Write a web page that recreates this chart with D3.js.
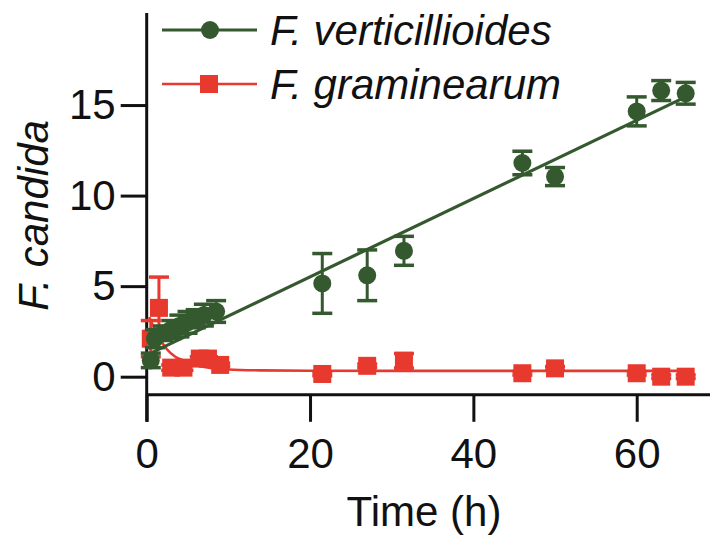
<!DOCTYPE html>
<html>
<head>
<meta charset="utf-8">
<script src="https://cdn.jsdelivr.net/npm/d3@7"></script>
<style>
  body { margin: 0; background: #fff; }
  text { font-family: "Liberation Sans", Arial, Helvetica, sans-serif; fill: #111; }
</style>
</head>
<body>
<div id="chart"></div>
<script>
// F. verticillioides (green circles)
const vertTime = [0.5, 1, 2, 3, 4, 5, 6, 7, 8.5, 21.5, 27, 31.5, 46, 50, 60, 63, 66];
const vertMean = [0.9, 2.1, 2.4, 2.6, 2.8, 3.0, 3.2, 3.4, 3.6, 5.15, 5.6, 6.95, 11.8, 11.05, 14.65, 15.8, 15.65];
const vertErr  = [0.4, 0.5, 0.4, 0.5, 0.6, 0.6, 0.5, 0.6, 0.6, 1.65, 1.4, 0.8, 0.65, 0.5, 0.8, 0.55, 0.6];
const vertFit  = [[0.5, 1.3], [66, 15.45]];

// F. graminearum (red squares)
const gramTime = [0.5, 1.5, 3, 4.5, 6.5, 7.5, 9, 21.5, 27, 31.5, 46, 50, 60, 63, 66];
const gramMean = [2.1, 3.8, 0.5, 0.5, 1.0, 1.0, 0.65, 0.15, 0.6, 0.88, 0.19, 0.46, 0.19, 0.0, 0.0];
const gramErr  = [1.0, 1.7, 0.15, 0.15, 0.1, 0.1, 0.1, 0.1, 0.1, 0.4, 0.1, 0.1, 0.1, 0.1, 0.1];
const gramFit  = [[0.3, 3.3], [1, 2.6], [1.6, 2.1], [2.5, 1.5], [3.5, 1.1], [4.5, 0.9], [6, 0.65],
                  [8, 0.47], [10, 0.4], [14, 0.35], [20, 0.33], [40, 0.32], [66, 0.32]];

const xTicks = [0, 20, 40, 60];
const yTicks = [0, 5, 10, 15];
const legendNames = ['F. verticillioides', 'F. graminearum'];

const green = '#35592f';
const red = '#e8392e';

const W = 710, H = 535;
const svg = d3.select('#chart').append('svg')
  .attr('width', W)
  .attr('height', H);

// Scales (absolute pixel positions)
const x = d3.scaleLinear().domain([0, 69]).range([146.7, 710.2]);
const y = d3.scaleLinear().domain([-1, 20]).range([394.8, 14.5]);

// Axes
const xAxis = svg.append('g')
  .attr('transform', `translate(0,${y(-1)})`)
  .call(d3.axisBottom(x).tickValues(xTicks).tickSize(27).tickPadding(16).tickSizeOuter(0));
const yAxis = svg.append('g')
  .attr('transform', `translate(${x(0)},0)`)
  .call(d3.axisLeft(y).tickValues(yTicks).tickSize(26).tickPadding(5).tickSizeOuter(0));

[xAxis, yAxis].forEach(g => {
  g.selectAll('path.domain').remove();
  g.selectAll('line').attr('stroke', '#111').attr('stroke-width', 3);
  g.selectAll('text').style('font-size', '42px').attr('fill', '#111');
});

// axis lines
svg.append('line')
  .attr('x1', x(0)).attr('x2', x(0))
  .attr('y1', y(20) - 1.5).attr('y2', y(-1) + 27)
  .attr('stroke', '#111').attr('stroke-width', 3);
svg.append('line')
  .attr('x1', x(0)).attr('x2', x(69))
  .attr('y1', y(-1)).attr('y2', y(-1))
  .attr('stroke', '#111').attr('stroke-width', 3);

// Axis titles
svg.append('text')
  .attr('x', 424).attr('y', 526)
  .attr('text-anchor', 'middle')
  .style('font-size', '42px')
  .text('Time (h)');

svg.append('text')
  .attr('transform', `translate(48,${y(8.9)}) rotate(-90)`)
  .attr('text-anchor', 'middle')
  .style('font-size', '42px')
  .style('font-style', 'italic')
  .text('F. candida');

const line = d3.line().x(d => x(d[0])).y(d => y(d[1]));

// Fit lines
svg.append('path')
  .datum(gramFit)
  .attr('d', line.curve(d3.curveMonotoneX))
  .attr('fill', 'none')
  .attr('stroke', red)
  .attr('stroke-width', 2.6);

svg.append('path')
  .datum(vertFit)
  .attr('d', d3.line().x(d => x(d[0])).y(d => y(d[1])))
  .attr('fill', 'none')
  .attr('stroke', green)
  .attr('stroke-width', 3.2);

// Error bars + markers
function errorBars(times, means, errs, color) {
  const g = svg.append('g');
  const rows = times.map((t, i) => ({ t, m: means[i], e: errs[i] }));
  g.selectAll('.stem').data(rows).enter().append('line')
    .attr('x1', d => x(d.t)).attr('x2', d => x(d.t))
    .attr('y1', d => y(d.m - d.e)).attr('y2', d => y(d.m + d.e))
    .attr('stroke', color).attr('stroke-width', 3);
  g.selectAll('.capTop').data(rows).enter().append('line')
    .attr('x1', d => x(d.t) - 10).attr('x2', d => x(d.t) + 10)
    .attr('y1', d => y(d.m + d.e)).attr('y2', d => y(d.m + d.e))
    .attr('stroke', color).attr('stroke-width', 3.5);
  g.selectAll('.capBot').data(rows).enter().append('line')
    .attr('x1', d => x(d.t) - 10).attr('x2', d => x(d.t) + 10)
    .attr('y1', d => y(d.m - d.e)).attr('y2', d => y(d.m - d.e))
    .attr('stroke', color).attr('stroke-width', 3.5);
  return rows;
}

const gramRows = errorBars(gramTime, gramMean, gramErr, red);
svg.append('g').selectAll('rect').data(gramRows).enter().append('rect')
  .attr('x', d => x(d.t) - 9).attr('y', d => y(d.m) - 9)
  .attr('width', 18).attr('height', 18)
  .attr('fill', red);

const vertRows = errorBars(vertTime, vertMean, vertErr, green);
svg.append('g').selectAll('circle').data(vertRows).enter().append('circle')
  .attr('cx', d => x(d.t)).attr('cy', d => y(d.m))
  .attr('r', 9)
  .attr('fill', green);

// Legend
const legendY = [30, 84];
const legend = svg.append('g');
legend.append('line')
  .attr('x1', 162).attr('x2', 257).attr('y1', legendY[0]).attr('y2', legendY[0])
  .attr('stroke', green).attr('stroke-width', 3.2);
legend.append('circle')
  .attr('cx', 210).attr('cy', legendY[0]).attr('r', 9).attr('fill', green);
legend.append('line')
  .attr('x1', 162).attr('x2', 257).attr('y1', legendY[1]).attr('y2', legendY[1])
  .attr('stroke', red).attr('stroke-width', 2.6);
legend.append('rect')
  .attr('x', 200).attr('y', legendY[1] - 9).attr('width', 18).attr('height', 18)
  .attr('fill', red);
legend.selectAll('text').data(legendNames).enter().append('text')
  .attr('x', 270)
  .attr('y', (d, i) => legendY[i] + 15)
  .style('font-size', '42px')
  .style('font-style', 'italic')
  .text(d => d);
</script>
</body>
</html>
